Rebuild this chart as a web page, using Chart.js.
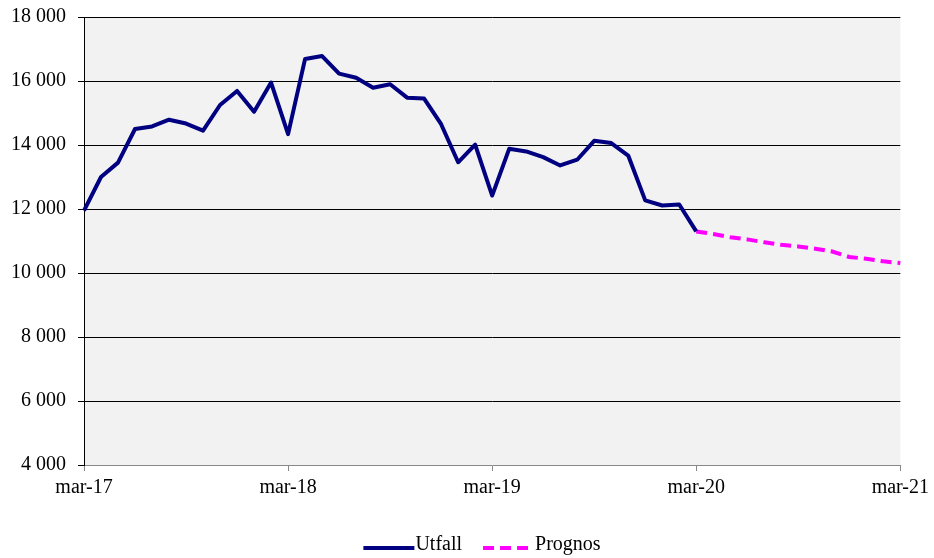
<!DOCTYPE html>
<html>
<head>
<meta charset="utf-8">
<script src="https://cdn.jsdelivr.net/npm/chart.js@4/dist/chart.umd.min.js"></script>
<style>
  html, body { margin: 0; padding: 0; background: #ffffff; }
  #wrap { width: 934px; height: 558px; }
</style>
</head>
<body>
<div id="wrap"><canvas id="c" width="934" height="558"></canvas></div>
<script>
// Months (Swedish abbreviations), mar-17 .. mar-21
const months = ['jan','feb','mar','apr','maj','jun','jul','aug','sep','okt','nov','dec'];
const categories = [];
for (let y = 17; y <= 21; y++) {
  for (let m = 0; m < 12; m++) {
    if ((y === 17 && m < 2) || (y === 21 && m > 2)) continue;
    categories.push(months[m] + '-' + y);
  }
}

// Utfall (actual), mar-17 .. mar-20
const utfall = [
  11950, 13000, 13450, 14500, 14580, 14790, 14670, 14450, 15250, 15690, 15040, 15950,
  14340, 16690, 16780, 16230, 16100, 15790, 15900, 15480, 15450, 14650, 13460, 14010,
  12420, 13880, 13800, 13620, 13360, 13540, 14130, 14060, 13670, 12270, 12110, 12140,
  11300
];

// Prognos (forecast), mar-20 .. mar-21
const prognos = [
  11300, 11220, 11120, 11050, 10960, 10880, 10830, 10760, 10670, 10500, 10445, 10365, 10310
];

const yTicks = [4000, 6000, 8000, 10000, 12000, 14000, 16000, 18000];
const seriesNames = ['Utfall', 'Prognos'];

const prognosStart = utfall.length - 1;
const utfallData = categories.map((_, i) => i < utfall.length ? utfall[i] : null);
const prognosData = categories.map((_, i) => (i >= prognosStart && i - prognosStart < prognos.length) ? prognos[i - prognosStart] : null);

const fmt = v => String(v).replace(/\B(?=(\d{3})+(?!\d))/g, ' ');

const FONT = { family: '"Liberation Serif", "Times New Roman", serif', size: 20 };
const FONT_STR = '20px "Liberation Serif", "Times New Roman", serif';

const plotBg = {
  id: 'plotBg',
  beforeDraw(chart) {
    const {ctx, chartArea: a} = chart;
    ctx.save();
    ctx.fillStyle = '#f2f2f2';
    ctx.fillRect(a.left, a.top, a.right - a.left, a.bottom - a.top);
    ctx.restore();
  }
};

// Simple line legend below the chart (text + line sample per series)
const lineLegend = {
  id: 'lineLegend',
  afterDraw(chart) {
    const ctx = chart.ctx;
    const sampleLen = [51, 45];
    const textGap = [1, 7];
    const itemGap = 21;
    const yLine = 548, yText = 545;
    ctx.save();
    ctx.font = FONT_STR;
    let total = 0;
    chart.data.datasets.forEach((ds, i) => {
      total += sampleLen[i] + textGap[i] + ctx.measureText(ds.label).width;
      if (i > 0) total += itemGap;
    });
    let x = 482 - total / 2;
    chart.data.datasets.forEach((ds, i) => {
      ctx.beginPath();
      ctx.strokeStyle = ds.borderColor;
      ctx.lineWidth = ds.borderWidth;
      ctx.setLineDash(ds.borderDash || []);
      ctx.lineCap = 'butt';
      ctx.moveTo(x, yLine);
      ctx.lineTo(x + sampleLen[i], yLine);
      ctx.stroke();
      x += sampleLen[i] + textGap[i];
      ctx.setLineDash([]);
      ctx.fillStyle = '#000';
      ctx.textAlign = 'left';
      ctx.textBaseline = 'middle';
      ctx.fillText(ds.label, x, yText);
      x += ctx.measureText(ds.label).width + itemGap;
    });
    ctx.restore();
  }
};

new Chart(document.getElementById('c'), {
  type: 'line',
  data: {
    labels: categories,
    datasets: [
      {
        label: seriesNames[0],
        data: utfallData,
        borderColor: '#000080',
        backgroundColor: '#000080',
        borderWidth: 4,
        pointRadius: 0,
        tension: 0,
        borderJoinStyle: 'round',
        spanGaps: false
      },
      {
        label: seriesNames[1],
        data: prognosData,
        borderColor: '#ff00ff',
        backgroundColor: '#ff00ff',
        borderWidth: 4,
        borderDash: [11, 6],
        pointRadius: 0,
        tension: 0,
        spanGaps: false
      }
    ]
  },
  options: {
    responsive: false,
    animation: false,
    events: [],
    layout: { padding: { left: 0, right: 31, top: 17, bottom: 41 } },
    plugins: {
      legend: { display: false },
      tooltip: { enabled: false }
    },
    scales: {
      x: {
        type: 'category',
        offset: false,
        afterBuildTicks(scale) {
          scale.ticks = scale.ticks.filter(t => t.value % 12 === 0);
        },
        afterFit(scale) { scale.height = 52; },
        ticks: {
          autoSkip: false,
          maxRotation: 0,
          padding: 5,
          color: '#000',
          font: FONT
        },
        grid: {
          drawOnChartArea: false,
          drawTicks: true,
          tickLength: 6,
          color: '#888888'
        },
        border: { display: true, color: '#888888', width: 1 }
      },
      y: {
        min: 4000,
        max: 18000,
        afterBuildTicks(scale) {
          scale.ticks = yTicks.map(v => ({ value: v }));
        },
        afterFit(scale) { scale.width = 84; scale.paddingTop = 0; scale.paddingBottom = 0; },
        ticks: {
          padding: 12,
          color: '#000',
          font: FONT,
          callback: v => fmt(v)
        },
        grid: {
          color: ctx => (ctx.tick && ctx.tick.value === 4000) ? 'rgba(0,0,0,0)' : '#000000',
          tickColor: '#000000',
          tickLength: 6,
          lineWidth: 1
        },
        border: { display: true, color: '#000000', width: 1 }
      }
    }
  },
  plugins: [plotBg, lineLegend]
});
</script>
</body>
</html>
